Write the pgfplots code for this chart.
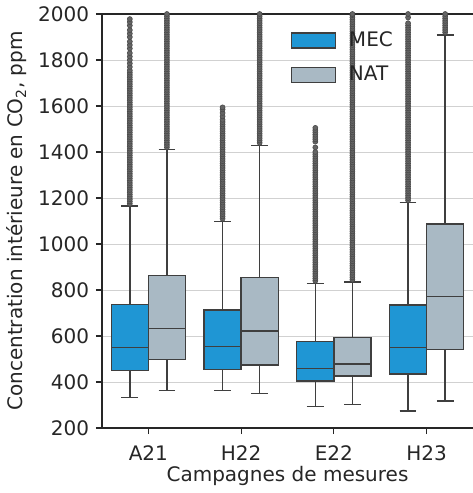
\documentclass[border=0pt]{standalone}
\usepackage{pgfplots}
\pgfplotsset{compat=1.18}
\usepgfplotslibrary{statistics}
\usepackage{fontspec}
\setmainfont{DejaVu Sans}
\definecolor{mec}{HTML}{1F96D4}
\definecolor{nat}{HTML}{A9B9C4}
\definecolor{edge}{HTML}{3F3F3F}
\definecolor{fl}{HTML}{4A4A4A}
\definecolor{txt}{HTML}{262626}
\pgfplotsset{
  flier/.style={forget plot, only marks, mark=*, mark size=2.5pt, mark options={draw=fl, fill=fl!85, line width=0.6pt}},
  bx/.style={forget plot, draw=edge, line width=1.4pt, fill=#1, boxplot/box extend=0.4, boxplot/whisker extend=0.18},
}
\begin{document}
\fontsize{20}{24}\selectfont
\begin{tikzpicture}
\begin{axis}[
  boxplot/draw direction=y,
  scale only axis, width=371pt, height=414pt,
  xmin=-0.5, xmax=3.5, ymin=200, ymax=2000,
  axis x line*=box, axis y line*=left,
  axis line style={draw=txt, line width=1.2pt},
  tick pos=left, tick align=outside, major tick length=6pt,
  every tick/.style={draw=txt, line width=1.1pt},
  xtick={0,1,2,3}, xticklabels={A21,H22,E22,H23},
  ytick={200,400,...,2000},
  ymajorgrids, grid style={draw=black!18, line width=0.9pt},
  /pgf/number format/assume math mode=true,
  /pgf/number format/1000 sep={},
  tick label style={text=txt},
  x tick label style={anchor=base, yshift=-26pt},
  y tick label style={anchor=east},
  xlabel={Campagnes de mesures},
  ylabel={Concentration intérieure en CO\textsubscript{2}, ppm},
  xlabel style={at={(axis description cs:0.5,0)}, anchor=base, yshift=-53pt, text=txt},
  ylabel style={at={(axis description cs:-0.229,0.5)}, anchor=center, text=txt},
  legend style={draw=none, fill=none, at={(axis description cs:0.5,0.968)}, anchor=north west, row sep=13pt, text=txt,
    /tikz/every odd column/.append style={column sep=11pt}},
  legend cell align=left,
]
\addlegendimage{legend image code/.code={\draw[fill=mec, draw=edge, line width=1.3pt] (0pt,-7.5pt) rectangle (44pt,7.5pt);}}
\addlegendentry{MEC}
\addlegendimage{legend image code/.code={\draw[fill=nat, draw=edge, line width=1.3pt] (0pt,-7.5pt) rectangle (44pt,7.5pt);}}
\addlegendentry{NAT}

\addplot[bx=mec, boxplot prepared={draw position=-0.2, lower whisker=332, lower quartile=449, median=549, upper quartile=738, upper whisker=1165}] coordinates {};
\addplot[bx=nat, boxplot prepared={draw position=0.2, lower whisker=362, lower quartile=499, median=632, upper quartile=862, upper whisker=1410}] coordinates {};
\addplot[bx=mec, boxplot prepared={draw position=0.8, lower whisker=362, lower quartile=455, median=554, upper quartile=713, upper whisker=1099}] coordinates {};
\addplot[bx=nat, boxplot prepared={draw position=1.2, lower whisker=351, lower quartile=474, median=622, upper quartile=855, upper whisker=1428}] coordinates {};
\addplot[bx=mec, boxplot prepared={draw position=1.8, lower whisker=293, lower quartile=404, median=459, upper quartile=577, upper whisker=829}] coordinates {};
\addplot[bx=nat, boxplot prepared={draw position=2.2, lower whisker=301, lower quartile=426, median=478, upper quartile=593, upper whisker=835}] coordinates {};
\addplot[bx=mec, boxplot prepared={draw position=2.8, lower whisker=274, lower quartile=435, median=551, upper quartile=735, upper whisker=1180}] coordinates {};
\addplot[bx=nat, boxplot prepared={draw position=3.2, lower whisker=317, lower quartile=542, median=772, upper quartile=1087, upper whisker=1909}] coordinates {};

% outliers (A21 MEC)
\addplot[flier] table[row sep=\\, header=false, x expr=-0.2, y index=0] {1175\\1185\\1195\\1205\\1215\\1225\\1235\\1245\\1255\\1265\\1275\\1285\\1295\\1305\\1315\\1325\\1335\\1345\\1355\\1365\\1375\\1385\\1395\\1405\\1415\\1425\\1435\\1445\\1455\\1465\\1475\\1485\\1495\\1505\\1515\\1525\\1535\\1545\\1555\\1565\\1575\\1585\\1595\\1605\\1615\\1625\\1635\\1645\\1655\\1665\\1675\\1685\\1695\\1705\\1715\\1725\\1735\\1745\\1755\\1770\\1785\\1800\\1815\\1830\\1850\\1865\\1880\\1900\\1915\\1930\\1950\\1965\\1978\\};
% A21 NAT
\addplot[flier] table[row sep=\\, header=false, x expr=0.2, y index=0] {1420\\1430\\1440\\1450\\1460\\1470\\1480\\1490\\1500\\1510\\1520\\1530\\1540\\1550\\1560\\1570\\1580\\1590\\1600\\1610\\1620\\1630\\1640\\1650\\1660\\1670\\1680\\1690\\1700\\1710\\1720\\1730\\1740\\1750\\1760\\1770\\1780\\1790\\1800\\1810\\1820\\1830\\1840\\1850\\1860\\1870\\1880\\1890\\1900\\1910\\1920\\1930\\1940\\1950\\1960\\1970\\1980\\1990\\2000\\};
% H22 MEC
\addplot[flier] table[row sep=\\, header=false, x expr=0.8, y index=0] {1110\\1120\\1130\\1140\\1150\\1160\\1170\\1180\\1190\\1200\\1210\\1220\\1230\\1240\\1250\\1260\\1270\\1280\\1290\\1300\\1310\\1320\\1330\\1340\\1350\\1360\\1370\\1380\\1390\\1400\\1410\\1420\\1430\\1440\\1450\\1460\\1470\\1480\\1490\\1500\\1510\\1520\\1530\\1540\\1555\\1570\\1585\\1594\\};
% H22 NAT
\addplot[flier] table[row sep=\\, header=false, x expr=1.2, y index=0] {1440\\1450\\1460\\1470\\1480\\1490\\1500\\1510\\1520\\1530\\1540\\1550\\1560\\1570\\1580\\1590\\1600\\1610\\1620\\1630\\1640\\1650\\1660\\1670\\1680\\1690\\1700\\1710\\1720\\1730\\1740\\1750\\1760\\1770\\1780\\1790\\1800\\1810\\1820\\1830\\1840\\1850\\1860\\1870\\1880\\1890\\1900\\1910\\1920\\1930\\1940\\1950\\1960\\1970\\1980\\1990\\2000\\};
% E22 MEC
\addplot[flier] table[row sep=\\, header=false, x expr=1.8, y index=0] {840\\850\\860\\870\\880\\890\\900\\910\\920\\930\\940\\950\\960\\970\\980\\990\\1000\\1010\\1020\\1030\\1040\\1050\\1060\\1070\\1080\\1090\\1100\\1110\\1120\\1130\\1140\\1150\\1160\\1170\\1180\\1190\\1200\\1210\\1220\\1230\\1240\\1250\\1260\\1270\\1280\\1290\\1300\\1310\\1320\\1330\\1340\\1350\\1360\\1370\\1380\\1390\\1400\\1420\\1445\\1455\\1465\\1475\\1485\\1495\\1505\\};
% E22 NAT
\addplot[flier] table[row sep=\\, header=false, x expr=2.2, y index=0] {845\\855\\865\\875\\885\\895\\905\\915\\925\\935\\945\\955\\965\\975\\985\\995\\1005\\1015\\1025\\1035\\1045\\1055\\1065\\1075\\1085\\1095\\1105\\1115\\1125\\1135\\1145\\1155\\1165\\1175\\1185\\1195\\1205\\1215\\1225\\1235\\1245\\1255\\1265\\1275\\1285\\1295\\1305\\1315\\1325\\1335\\1345\\1355\\1365\\1375\\1385\\1395\\1405\\1415\\1425\\1435\\1445\\1455\\1465\\1475\\1485\\1495\\1505\\1515\\1525\\1535\\1545\\1555\\1565\\1575\\1585\\1595\\1605\\1615\\1625\\1635\\1645\\1655\\1665\\1675\\1685\\1695\\1705\\1715\\1725\\1735\\1745\\1755\\1765\\1775\\1785\\1795\\1805\\1815\\1825\\1835\\1845\\1855\\1865\\1875\\1885\\1895\\1905\\1915\\1925\\1935\\1945\\1955\\1965\\1975\\1985\\1995\\2000\\};
% H23 MEC
\addplot[flier] table[row sep=\\, header=false, x expr=2.8, y index=0] {1190\\1200\\1210\\1220\\1230\\1240\\1250\\1260\\1270\\1280\\1290\\1300\\1310\\1320\\1330\\1340\\1350\\1360\\1370\\1380\\1390\\1400\\1410\\1420\\1430\\1440\\1450\\1460\\1470\\1480\\1490\\1500\\1510\\1520\\1530\\1540\\1550\\1560\\1570\\1580\\1590\\1600\\1610\\1620\\1630\\1640\\1650\\1660\\1670\\1680\\1690\\1700\\1710\\1720\\1730\\1740\\1750\\1760\\1770\\1780\\1790\\1800\\1810\\1820\\1830\\1840\\1850\\1860\\1870\\1880\\1890\\1900\\1910\\1920\\1930\\1940\\1950\\1960\\1985\\2000\\};
% H23 NAT
\addplot[flier] table[row sep=\\, header=false, x expr=3.2, y index=0] {1920\\1930\\1940\\1950\\1960\\1970\\1980\\1990\\2000\\};
\end{axis}
\pgfresetboundingbox
\path[use as bounding box] (-102pt,-65pt) rectangle (371pt,428pt);
\end{tikzpicture}
\end{document}
